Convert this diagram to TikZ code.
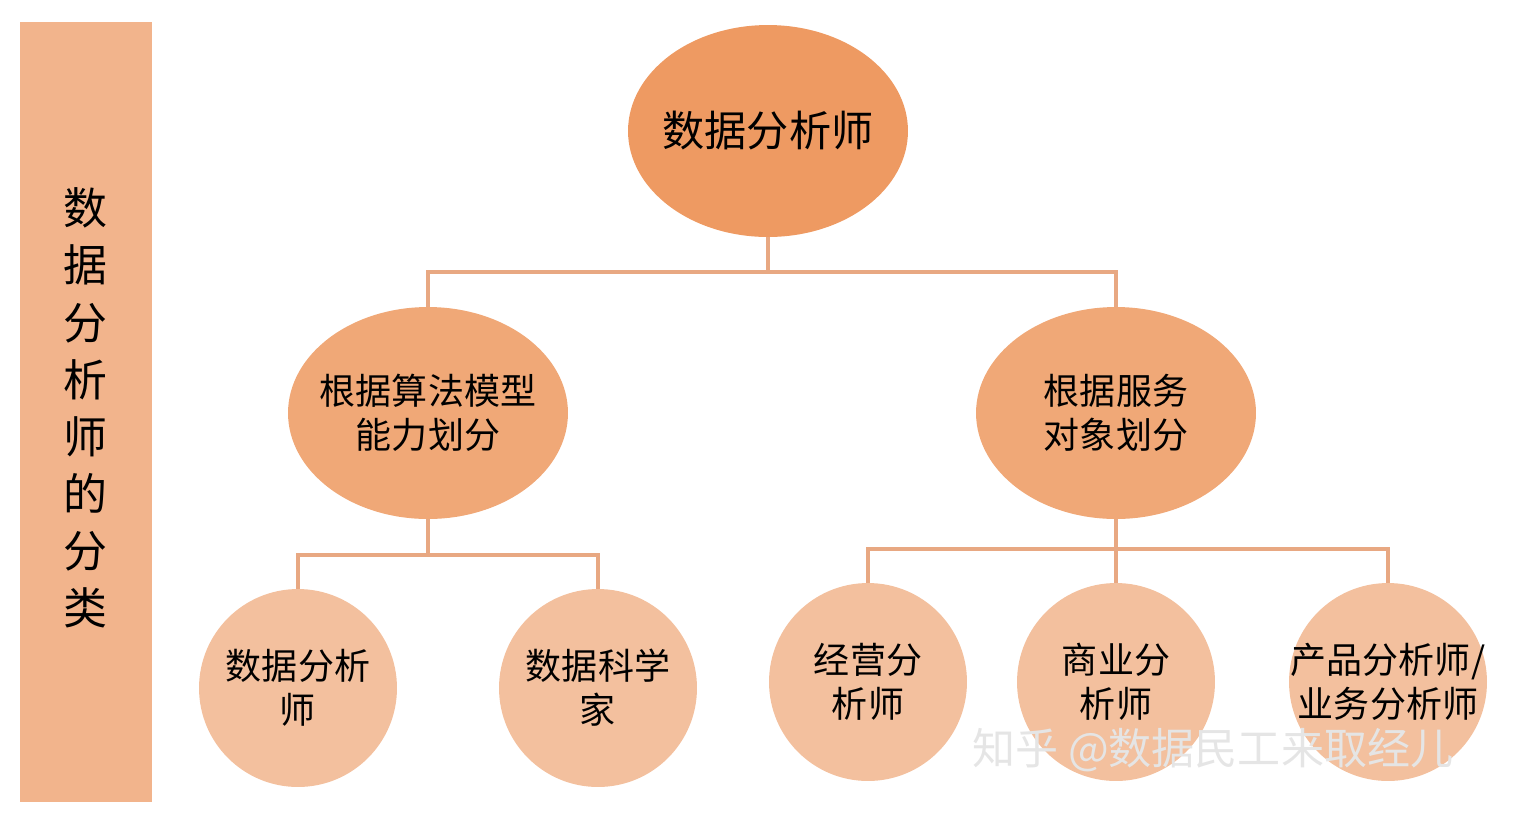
\documentclass[tikz,border=0pt]{standalone}
\usepackage{fontspec}
\setmainfont{Noto Sans CJK SC}
\usetikzlibrary{shapes.geometric,positioning}
\definecolor{barc}{HTML}{F2B48C}
\definecolor{topc}{HTML}{EE9A62}
\definecolor{midc}{HTML}{F0A877}
\definecolor{lowc}{HTML}{F3C09E}
\definecolor{linec}{HTML}{E8A882}
\tikzset{
  bigoval/.style={ellipse, fill=topc, minimum width=5.6cm, minimum height=4.24cm, align=center, inner sep=-0.8cm},
  midoval/.style={ellipse, fill=midc, minimum width=5.6cm, minimum height=4.24cm, align=center, inner sep=-0.8cm, font=\fontsize{20.5}{25}\selectfont},
  leaf/.style={circle, fill=lowc, minimum size=3.96cm, align=center, inner sep=-0.8cm, font=\fontsize{20.5}{25}\selectfont},
  link/.style={draw=linec, line width=1.8pt}
}
\begin{document}
\begin{tikzpicture}[x=0.02cm,y=-0.02cm]
\useasboundingbox (0,0) rectangle (1514,816);
\fill[barc] (20,22) rectangle (152,802);
\node[align=center, font=\fontsize{25}{32.5}\selectfont] (side) at (85,408) {数\\据\\分\\析\\师\\的\\分\\类};
% top level
\node[bigoval, font=\fontsize{24}{28}\selectfont] (top) at (768,131) {数据分析师};
% second level
\node[midoval] (ml) at (428,413) {根据算法模型\\能力划分};
\node[midoval] (mr) at (1116,413) {根据服务\\对象划分};
% leaves
\node[leaf] (l1) at (298,688) {数据分析\\师};
\node[leaf] (l2) at (598,688) {数据科学\\家};
\node[leaf] (r1) at (868,682) {经营分\\析师};
\node[leaf] (r2) at (1116,682) {商业分\\析师};
\node[leaf] (r3) at (1388,682) {产品分析师/\\业务分析师};
% connectors
\coordinate (j1) at (768,272);
\coordinate (j2) at (428,555);
\coordinate (j3) at (1116,549);
\draw[link] (top.south) -- (j1) -| (ml.north);
\draw[link] (j1) -| (mr.north);
\draw[link] (ml.south) -- (j2) -| (l1.north);
\draw[link] (j2) -| (l2.north);
\draw[link] (mr.south) -- (j3) -| (r1.north);
\draw[link] (j3) -- (r2.north);
\draw[link] (j3) -| (r3.north);
% watermark
\node[text=white!80!gray, font=\fontsize{24.5}{28}\selectfont, anchor=west, inner sep=0pt] (mark) at (972,750) {知乎 @数据民工来取经儿};
\end{tikzpicture}
\end{document}
